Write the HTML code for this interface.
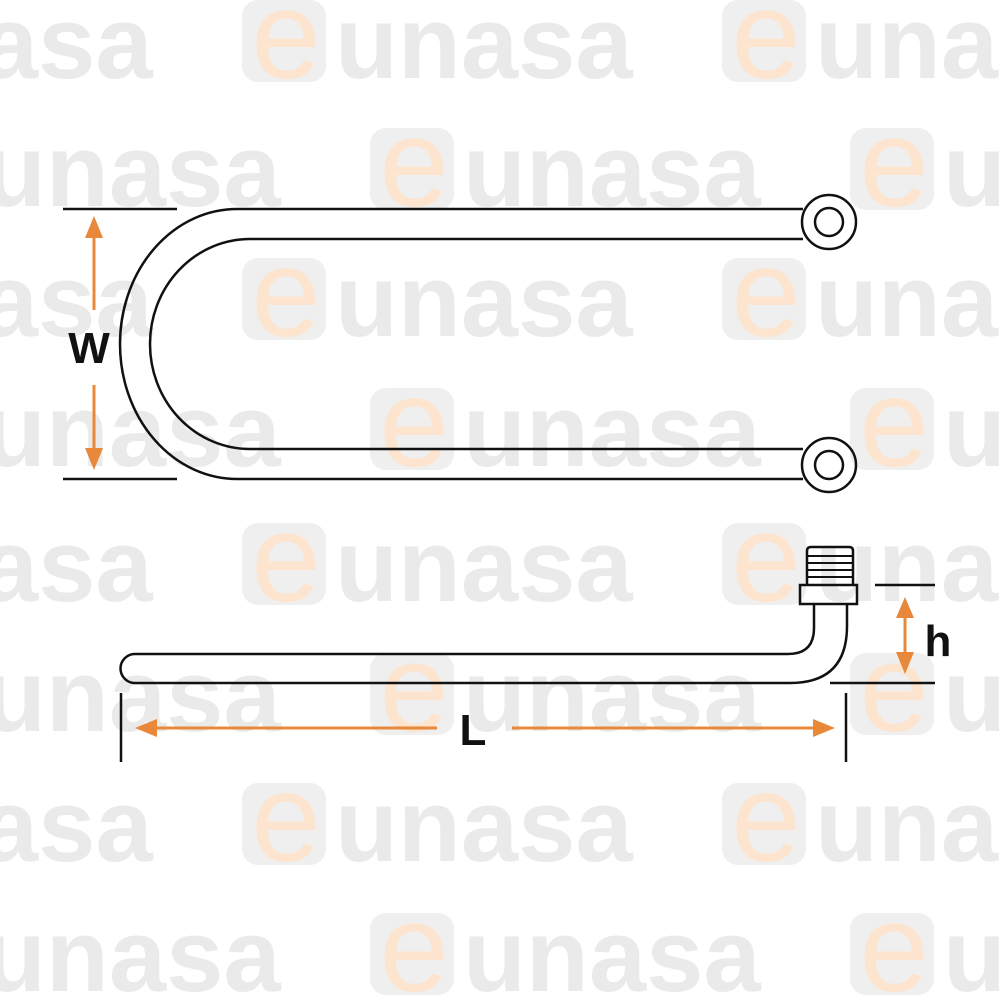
<!DOCTYPE html>
<html><head><style>html,body{margin:0;padding:0;background:#fff}svg{display:block}</style></head><body>
<svg width="1000" height="1000" viewBox="0 0 1000 1000" xmlns="http://www.w3.org/2000/svg">
<defs>
<g id="wm">
<rect x="0" y="0" width="84" height="82" rx="16" fill="#efefef"/>
<text x="44" y="78" text-anchor="middle" font-family="Liberation Sans, sans-serif" font-size="125" fill="#fde4cf">e</text>
<text x="93" y="78" font-family="Liberation Sans, sans-serif" font-weight="bold" font-size="103" fill="#eaeaea">unasa</text>
</g>
</defs>
<g>
<use href="#wm" x="-238" y="0"/><use href="#wm" x="242" y="0"/><use href="#wm" x="722" y="0"/>
<use href="#wm" x="-110" y="128"/><use href="#wm" x="370" y="128"/><use href="#wm" x="850" y="128"/>
<use href="#wm" x="-238" y="258"/><use href="#wm" x="242" y="258"/><use href="#wm" x="722" y="258"/>
<use href="#wm" x="-110" y="388"/><use href="#wm" x="370" y="388"/><use href="#wm" x="850" y="388"/>
<use href="#wm" x="-238" y="523"/><use href="#wm" x="242" y="523"/><use href="#wm" x="722" y="523"/>
<use href="#wm" x="-110" y="653"/><use href="#wm" x="370" y="653"/><use href="#wm" x="850" y="653"/>
<use href="#wm" x="-238" y="783"/><use href="#wm" x="242" y="783"/><use href="#wm" x="722" y="783"/>
<use href="#wm" x="-110" y="913"/><use href="#wm" x="370" y="913"/><use href="#wm" x="850" y="913"/>
</g>
<g fill="none" stroke="#111" stroke-width="2.5">
<path d="M803 209 L237 209 A117 135 0 0 0 237 479 L803 479"/>
<path d="M803 239 L250 239 A100 105 0 0 0 250 449 L803 449"/>
<circle cx="829" cy="222" r="27"/><circle cx="829" cy="222" r="14"/>
<circle cx="829" cy="465" r="27"/><circle cx="829" cy="465" r="14"/>
<line x1="63" y1="209" x2="177" y2="209"/><line x1="63" y1="479" x2="177" y2="479"/>
<path d="M814 604 L814 628 Q814 654 788 654 L135 654 A14.5 14.5 0 0 0 135 683 L790 683 Q847 683 847 626 L847 604"/>
<rect x="800" y="585" width="57" height="19"/>
<path d="M807 585 L807 551 Q807 547 811 547 L849 547 Q853 547 853 551 L853 585"/>
<line x1="807" y1="556" x2="853" y2="556" stroke-width="2"/>
<line x1="807" y1="563" x2="853" y2="563" stroke-width="2"/>
<line x1="807" y1="570" x2="853" y2="570" stroke-width="2"/>
<line x1="807" y1="577" x2="853" y2="577" stroke-width="2"/>
<line x1="875" y1="585" x2="935" y2="585"/><line x1="830" y1="683" x2="935" y2="683"/>
<line x1="121" y1="693" x2="121" y2="762"/><line x1="846" y1="693" x2="846" y2="762"/>
</g>
<g stroke="#e8883a" stroke-width="3" fill="#e8883a">
<line x1="94" y1="230" x2="94" y2="310"/><polygon points="94,216 85,238 103,238" stroke="none"/>
<line x1="94" y1="385" x2="94" y2="456"/><polygon points="94,470 85,448 103,448" stroke="none"/>
<line x1="905" y1="610" x2="905" y2="660"/><polygon points="905,597 896,618 914,618" stroke="none"/>
<polygon points="905,674 896,652 914,652" stroke="none"/>
<line x1="150" y1="728" x2="437" y2="728"/><polygon points="135,728 157,719 157,737" stroke="none"/>
<line x1="512" y1="728" x2="820" y2="728"/><polygon points="835,728 813,719 813,737" stroke="none"/>
</g>
<g font-family="Liberation Sans, sans-serif" font-weight="bold" fill="#111">
<text x="89" y="363" font-size="44" text-anchor="middle">W</text>
<text x="473" y="745" font-size="44" text-anchor="middle">L</text>
<text x="938" y="656" font-size="44" text-anchor="middle">h</text>
</g>
</svg>
</body></html>
